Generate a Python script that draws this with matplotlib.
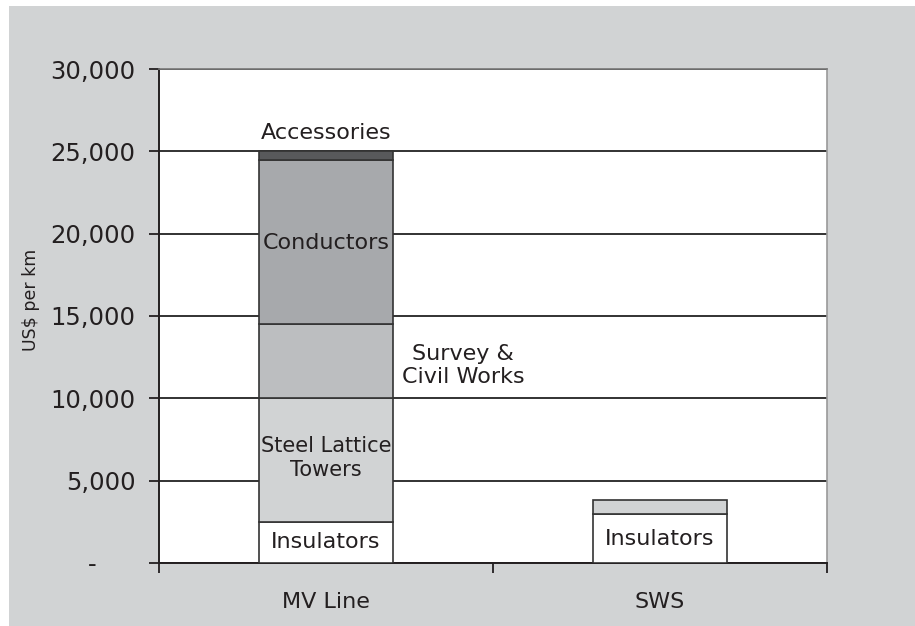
import matplotlib.pyplot as plt
from matplotlib.patches import Rectangle
import numpy as np

plt.rcParams['font.family'] = ['DejaVu Sans']

categories = ['MV Line', 'SWS']
insulators = [2500, 3000]
steel_towers = [7500, 800]
survey_civil = [4500, 0]
conductors = [10000, 0]
accessories = [500, 0]
yticks = [0, 5000, 10000, 15000, 20000, 25000, 30000]
ytick_labels = ['-     ', '5,000', '10,000', '15,000', '20,000', '25,000', '30,000']

segments = [
    (insulators, '#ffffff'),
    (steel_towers, '#d1d3d4'),
    (survey_civil, '#bcbec0'),
    (conductors, '#a7a9ac'),
    (accessories, '#58595b'),
]

W, H = 915, 626
fig = plt.figure(figsize=(W / 100, H / 100), dpi=100, facecolor='white')
bg = Rectangle((9 / W, 0), 1 - 9 / W, (H - 6) / H, transform=fig.transFigure,
               facecolor='#d1d3d4', edgecolor='none', zorder=-10)
fig.add_artist(bg)

ax = fig.add_axes([159 / W, (H - 563) / H, (827 - 159) / W, (563 - 69) / H])
ax.set_zorder(1)
ax.set_facecolor('white')

x = np.arange(len(categories))
bottom = np.zeros(len(categories))
for vals, col in segments:
    vals = np.asarray(vals, dtype=float)
    mask = vals > 0
    ax.bar(x[mask], vals[mask], 0.4, bottom=bottom[mask], color=col,
           edgecolor='#333333', linewidth=1.2, zorder=3)
    bottom += vals

ax.set_xlim(-0.5, 1.5)
ax.set_ylim(0, 30000)
ax.set_yticks(yticks)
ax.set_yticklabels(ytick_labels)
ax.yaxis.grid(True, color='#222222', linewidth=1.3, zorder=1)
ax.set_axisbelow(True)

ax.set_xticks(x)
ax.set_xticklabels(categories)
ax.set_xticks([-0.5, 0.5, 1.5], minor=True)
ax.tick_params(axis='x', which='major', length=0, pad=21, labelsize=16, colors='#231f20')
ax.tick_params(axis='x', which='minor', length=7, width=1.3, direction='out', color='#231f20')
ax.tick_params(axis='y', length=7, width=1.3, pad=10, labelsize=17.5, colors='#231f20')

for s in ['left', 'bottom']:
    ax.spines[s].set_color('#231f20')
    ax.spines[s].set_linewidth(1.4)
ax.spines['top'].set_color('#777777')
ax.spines['right'].set_color('#999999')
ax.spines['top'].set_linewidth(1.2)
ax.spines['right'].set_linewidth(1.2)

fig.text(31 / W, 1 - 300 / H, 'US$ per km', rotation=90, ha='center', va='center',
         fontsize=12.5, color='#231f20')

tc = '#231f20'
fs = 16
ax.text(0, 26100, 'Accessories', ha='center', va='center', fontsize=fs, color=tc)
ax.text(0, 19430, 'Conductors', ha='center', va='center', fontsize=fs, color=tc)
ax.text(0.41, 12000, 'Survey &\nCivil Works', ha='center', va='center', fontsize=fs,
        color=tc, linespacing=1.2)
ax.text(0, 6400, 'Steel Lattice\nTowers', ha='center', va='center', fontsize=15,
        color=tc, linespacing=1.25)
ax.text(0, 1250, 'Insulators', ha='center', va='center', fontsize=fs, color=tc)
ax.text(1, 1450, 'Insulators', ha='center', va='center', fontsize=fs, color=tc)

fig.savefig('out.png', dpi=100, facecolor=fig.get_facecolor())
